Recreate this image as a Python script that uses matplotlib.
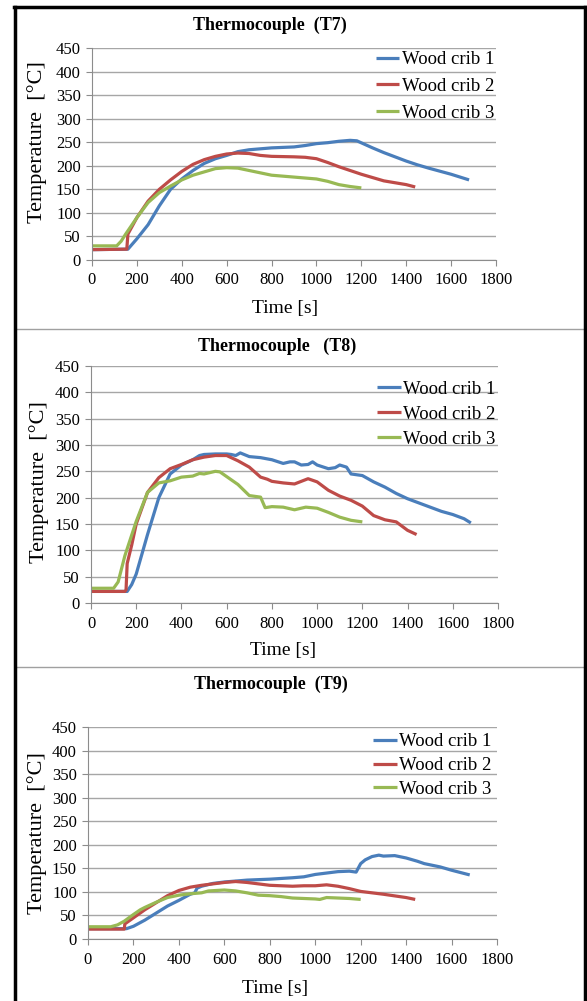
import matplotlib
matplotlib.use("Agg")
import matplotlib.pyplot as plt
from matplotlib.lines import Line2D

plt.rcParams['font.family'] = ['Liberation Serif', 'DejaVu Serif']

# --- data ---
# T7
t7_1_t = [0, 160, 200, 250, 300, 350, 400, 450, 500, 550, 600, 650, 700, 800, 900, 950, 1000, 1050, 1100, 1150, 1180, 1250, 1300, 1400, 1450, 1500, 1600, 1680]
t7_1_v = [22, 23, 45, 75, 115, 150, 172, 190, 205, 215, 222, 230, 234, 238, 240, 243, 247, 249, 252, 254, 253, 238, 228, 210, 202, 195, 182, 170]
t7_2_t = [0, 155, 160, 200, 250, 300, 350, 400, 450, 500, 550, 600, 650, 700, 750, 800, 900, 950, 1000, 1050, 1100, 1150, 1200, 1250, 1300, 1400, 1440]
t7_2_v = [22, 23, 55, 90, 125, 150, 170, 188, 203, 213, 220, 225, 227, 226, 222, 220, 219, 218, 215, 207, 198, 190, 182, 175, 168, 160, 155]
t7_3_t = [0, 110, 130, 150, 200, 250, 300, 350, 400, 450, 500, 550, 600, 650, 700, 750, 800, 900, 1000, 1050, 1100, 1150, 1200]
t7_3_v = [30, 30, 40, 55, 90, 122, 143, 157, 170, 180, 187, 194, 196, 195, 190, 185, 180, 176, 172, 167, 160, 156, 153]

# T8
t8_1_t = [0, 160, 180, 200, 250, 300, 350, 400, 450, 480, 500, 550, 600, 620, 640, 660, 700, 750, 800, 850, 880, 900, 930, 960, 980, 1000, 1050, 1080, 1100, 1130, 1150, 1200, 1250, 1300, 1350, 1400, 1450, 1500, 1550, 1600, 1650, 1680]
t8_1_v = [22, 22, 35, 55, 130, 200, 245, 262, 272, 280, 282, 283, 283, 282, 280, 285, 278, 276, 272, 265, 268, 268, 262, 263, 268, 262, 255, 257, 262, 258, 245, 242, 230, 220, 208, 198, 190, 182, 174, 168, 160, 152]
t8_2_t = [0, 150, 155, 160, 180, 200, 250, 300, 350, 400, 450, 500, 550, 580, 600, 650, 700, 750, 780, 800, 850, 900, 960, 1000, 1050, 1100, 1150, 1200, 1250, 1300, 1350, 1400, 1440]
t8_2_v = [22, 22, 25, 75, 110, 150, 210, 238, 255, 263, 272, 277, 280, 280, 280, 270, 258, 239, 235, 231, 228, 226, 236, 230, 214, 203, 195, 184, 166, 158, 154, 138, 130]
t8_3_t = [0, 100, 120, 150, 200, 250, 300, 350, 400, 450, 480, 500, 550, 570, 600, 650, 700, 750, 770, 800, 850, 900, 950, 1000, 1050, 1100, 1150, 1200]
t8_3_v = [28, 28, 40, 90, 155, 210, 228, 232, 239, 241, 246, 245, 250, 249, 240, 225, 204, 201, 181, 183, 182, 177, 182, 180, 172, 163, 157, 154]

# T9
t9_1_t = [0, 170, 200, 250, 300, 350, 400, 450, 470, 480, 500, 550, 600, 650, 700, 800, 900, 950, 1000, 1050, 1100, 1150, 1180, 1200, 1220, 1250, 1280, 1300, 1350, 1400, 1450, 1480, 1550, 1600, 1680]
t9_1_v = [22, 22, 27, 40, 55, 70, 82, 95, 98, 108, 112, 118, 121, 123, 125, 127, 130, 132, 137, 140, 143, 144, 142, 160, 168, 175, 178, 176, 177, 172, 165, 160, 153, 146, 136]
t9_2_t = [0, 160, 162, 200, 250, 300, 350, 400, 450, 500, 550, 600, 650, 700, 750, 800, 850, 900, 950, 1000, 1050, 1100, 1150, 1200, 1250, 1300, 1400, 1440]
t9_2_v = [21, 21, 32, 45, 62, 77, 92, 103, 110, 114, 117, 120, 122, 120, 117, 114, 113, 112, 113, 113, 115, 112, 107, 101, 98, 95, 88, 84]
t9_3_t = [0, 100, 130, 160, 200, 230, 250, 300, 350, 400, 450, 500, 530, 600, 650, 700, 750, 800, 850, 900, 950, 1000, 1020, 1050, 1100, 1150, 1200]
t9_3_v = [26, 26, 30, 38, 52, 62, 67, 78, 88, 93, 96, 98, 102, 104, 102, 98, 93, 92, 90, 87, 86, 85, 84, 88, 87, 86, 84]

labels = ["Wood crib 1", "Wood crib 2", "Wood crib 3"]
colors = ["#4a7ebb", "#be4b48", "#98b954"]
titles = ["Thermocouple  (T7)", "Thermocouple   (T8)", "Thermocouple  (T9)"]

panels = [
    [(t7_1_t, t7_1_v), (t7_2_t, t7_2_v), (t7_3_t, t7_3_v)],
    [(t8_1_t, t8_1_v), (t8_2_t, t8_2_v), (t8_3_t, t8_3_v)],
    [(t9_1_t, t9_1_v), (t9_2_t, t9_2_v), (t9_3_t, t9_3_v)],
]

W, H = 587, 1001
fig = plt.figure(figsize=(W / 100, H / 100), dpi=100)

# axes boxes in pixels: left, right, top, bottom
boxes = [(92, 496, 48, 260), (91, 498, 366, 603), (88, 497, 727, 939)]
title_xy = [(270, 25), (277, 346), (271, 684)]
xlab_xy = [(285, 308), (283, 650), (275, 988)]
ylab_xy = [(37, 142), (39, 482), (37, 833)]
leg_anchor = [(0.703, 0.986), (0.703, 0.937), (0.697, 0.971)]
leg_space = [0.52, 0.41, 0.36]

for k in range(3):
    l, r, t, b = boxes[k]
    ax = fig.add_axes([l / W, 1 - b / H, (r - l) / W, (b - t) / H])
    for (tt, vv), lab, c in zip(panels[k], labels, colors):
        ax.plot(tt, vv, color=c, lw=2.3, label=lab, solid_capstyle='butt')
    ax.set_xlim(0, 1800)
    ax.set_ylim(0, 450)
    ax.set_xticks(range(0, 1801, 200))
    ax.set_yticks(range(0, 451, 50))
    ax.grid(axis='y', color='#a6a6a6', lw=1)
    ax.set_axisbelow(True)
    for s in ['top', 'right']:
        ax.spines[s].set_visible(False)
    for s in ['left', 'bottom']:
        ax.spines[s].set_color('#8c8c8c')
    ax.tick_params(axis='both', colors='#8c8c8c', labelcolor='black', labelsize=12, length=4, direction='out')
    ax.tick_params(axis='x', pad=5)
    ax.tick_params(axis='y', pad=4)
    ax.legend(loc='upper left', bbox_to_anchor=leg_anchor[k], frameon=False, fontsize=13.5,
              handlelength=1.25, handletextpad=0.15, borderpad=0, borderaxespad=0,
              labelspacing=leg_space[k])
    fig.text(title_xy[k][0] / W, 1 - title_xy[k][1] / H, titles[k], ha='center', va='center',
             fontsize=13, fontweight='bold')
    fig.text(xlab_xy[k][0] / W, 1 - xlab_xy[k][1] / H, "Time [s]", ha='center', va='center', fontsize=14)
    fig.text(ylab_xy[k][0] / W, 1 - ylab_xy[k][1] / H, "Temperature  [°C]", ha='center', va='center',
             fontsize=16, rotation=90)

# frame and separators
def fl(x0, y0, x1, y1, **kw):
    fig.add_artist(Line2D([x0 / W, x1 / W], [1 - y0 / H, 1 - y1 / H], transform=fig.transFigure, **kw))

fl(17, 329, 583, 329, color='#a0a0a0', lw=1)
fl(17, 667, 583, 667, color='#a0a0a0', lw=1)
fl(15, 7, 15, H, color='black', lw=2.5)
fl(14, 7, 586, 7, color='black', lw=2.5)
fl(585, 7, 585, H, color='black', lw=2.5)

fig.savefig("out.png", dpi=100)
